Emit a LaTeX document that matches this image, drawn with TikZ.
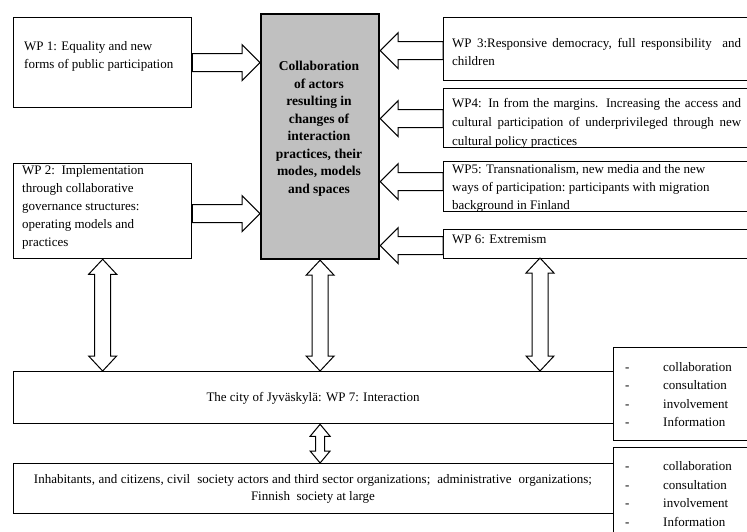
\documentclass[tikz,border=0pt]{standalone}
\usepackage{fontspec}
\setmainfont{Liberation Serif}
\usetikzlibrary{calc}
\definecolor{cgray}{RGB}{192,192,192}
\begin{document}
\begin{tikzpicture}[x=1pt,y=-1pt,
  box/.style={draw, line width=1.3pt, rectangle, inner sep=0pt, anchor=north west, fill=white},
  txt/.style={inner sep=0pt, anchor=north west, align=left, font=\fontsize{13}{18}\selectfont},
  ctxt/.style={inner sep=0pt, anchor=north, align=center, font=\fontsize{13.5}{17.5}\selectfont\bfseries},
  blk/.style={draw, fill=white, line width=1pt, line join=miter},
  arrowR/.style={blk, to path={let \p1=(\tikztostart), \p2=(\tikztotarget) in
    (\x1,\y1+9pt) -- (\x2-18pt,\y1+9pt) -- (\x2-18pt,\y1+18pt) -- (\x2,\y1) -- (\x2-18pt,\y1-18pt) -- (\x2-18pt,\y1-9pt) -- (\x1,\y1-9pt) -- cycle}},
  arrowL/.style={blk, to path={let \p1=(\tikztostart), \p2=(\tikztotarget) in
    (\x1,\y1+9pt) -- (\x2+18pt,\y1+9pt) -- (\x2+18pt,\y1+18pt) -- (\x2,\y1) -- (\x2+18pt,\y1-18pt) -- (\x2+18pt,\y1-9pt) -- (\x1,\y1-9pt) -- cycle}},
  dblV/.style n args={3}{blk, to path={let \p1=(\tikztostart), \p2=(\tikztotarget) in
    (\x1,\y1) -- (\x1+#3,\y1-#1) -- (\x1+#2,\y1-#1) -- (\x1+#2,\y2+#1) -- (\x1+#3,\y2+#1) -- (\x1,\y2) -- (\x1-#3,\y2+#1) -- (\x1-#2,\y2+#1) -- (\x1-#2,\y1-#1) -- (\x1-#3,\y1-#1) -- cycle}}
]
\clip (0,0) rectangle (747,532);
\fill[white] (0,0) rectangle (747,532);

% boxes
\node[box, minimum width=178pt, minimum height=90pt] (wp1) at (13,17) {};
\node[box, minimum width=178pt, minimum height=95pt] (wp2) at (13,163) {};
\node[box, fill=cgray, line width=2.2pt, minimum width=118pt, minimum height=245pt] (ctr) at (260,13) {};
\node[box, minimum width=320pt, minimum height=63pt] (wp3) at (443,17) {};
\node[box, minimum width=320pt, minimum height=59pt] (wp4) at (443,88) {};
\node[box, minimum width=320pt, minimum height=50pt] (wp5) at (443,161) {};
\node[box, minimum width=320pt, minimum height=29pt] (wp6) at (443,229) {};
\node[box, minimum width=600pt, minimum height=52pt] (city) at (13,371) {};
\node[box, minimum width=150pt, minimum height=93pt] (list1) at (613,347) {};
\node[box, minimum width=600pt, minimum height=50pt] (soc) at (13,463) {};
\node[box, minimum width=150pt, minimum height=100pt] (list2) at (613,447) {};
\coordinate (r6) at (540,258);

% texts
\node[txt] (t1) at (24,41.5) {WP 1: Equality and new\\forms of public participation};
\node[txt] (t2) at (22,165.5) {WP 2:\ \ Implementation\\through collaborative\\governance structures:\\operating models and\\practices};
\node[ctxt] (tc) at (319,61) {Collaboration\\of actors\\resulting in\\changes of\\interaction\\practices, their\\modes, models\\and spaces};
\node[txt] (t3) at (452,38.5) {\makebox[289pt][s]{WP 3:Responsive democracy, full responsibility\ \ and}\\children};
\node[txt, font=\fontsize{13}{19}\selectfont] (t4) at (452,98.5) {\makebox[289pt][s]{WP4: In from the margins. Increasing the access and}\\\makebox[289pt][s]{cultural participation\ of underprivileged\ through new}\\cultural policy\ practices};
\node[txt] (t5) at (452,164.5) {WP5: Transnationalism,\ new media and the new\\ways of participation:\ participants with migration\\background in Finland};
\node[txt] (t6) at (452,234.5) {WP 6: Extremism};
\node[inner sep=0pt, font=\fontsize{13}{18}\selectfont] (tcity) at (313,398) {The city of Jyväskylä: WP 7: Interaction};
\node[inner sep=0pt, align=center, font=\fontsize{13}{17}\selectfont] (tsoc) at (313,489) {\makebox[558pt][s]{Inhabitants, and citizens,\ civil\ \ society actors and third sector organizations;\ \ administrative\ \ organizations;}\\Finnish\ \ society at large};
\node[txt, font=\fontsize{13}{18.2}\selectfont] (tl1) at (625,362.5) {\makebox[38pt][l]{-}collaboration\\\makebox[38pt][l]{-}consultation\\\makebox[38pt][l]{-}involvement\\\makebox[38pt][l]{-}Information};
\node[txt, font=\fontsize{13}{18.5}\selectfont] (tl2) at (625,461.5) {\makebox[38pt][l]{-}collaboration\\\makebox[38pt][l]{-}consultation\\\makebox[38pt][l]{-}involvement\\\makebox[38pt][l]{-}Information};

% arrows into the centre
\draw[arrowR] (wp1.east) to (wp1.east -| ctr.west);
\draw[arrowR] ([yshift=-2.5pt]wp2.east) to ([yshift=-2.5pt]wp2.east -| ctr.west);
\draw[arrowL] ([yshift=-1.5pt]wp3.west) to ([yshift=-1.5pt]wp3.west -| ctr.east);
\draw[arrowL] ([yshift=-0.5pt]wp4.west) to ([yshift=-0.5pt]wp4.west -| ctr.east);
\draw[arrowL] ([yshift=5pt]wp5.west) to ([yshift=5pt]wp5.west -| ctr.east);
\draw[arrowL] ([yshift=-1.5pt]wp6.west) to ([yshift=-1.5pt]wp6.west -| ctr.east);

% vertical double arrows
\draw[dblV={15pt}{8pt}{14pt}] (wp2.south) to (wp2.south |- city.north);
\draw[dblV={15pt}{8pt}{14pt}] (ctr.south) to (ctr.south |- city.north);
\draw[dblV={15pt}{8pt}{14pt}] (r6) to (r6 |- city.north);
\draw[dblV={12pt}{4.5pt}{10pt}] (city.south -| ctr.south) to (soc.north -| ctr.south);
\end{tikzpicture}
\end{document}
